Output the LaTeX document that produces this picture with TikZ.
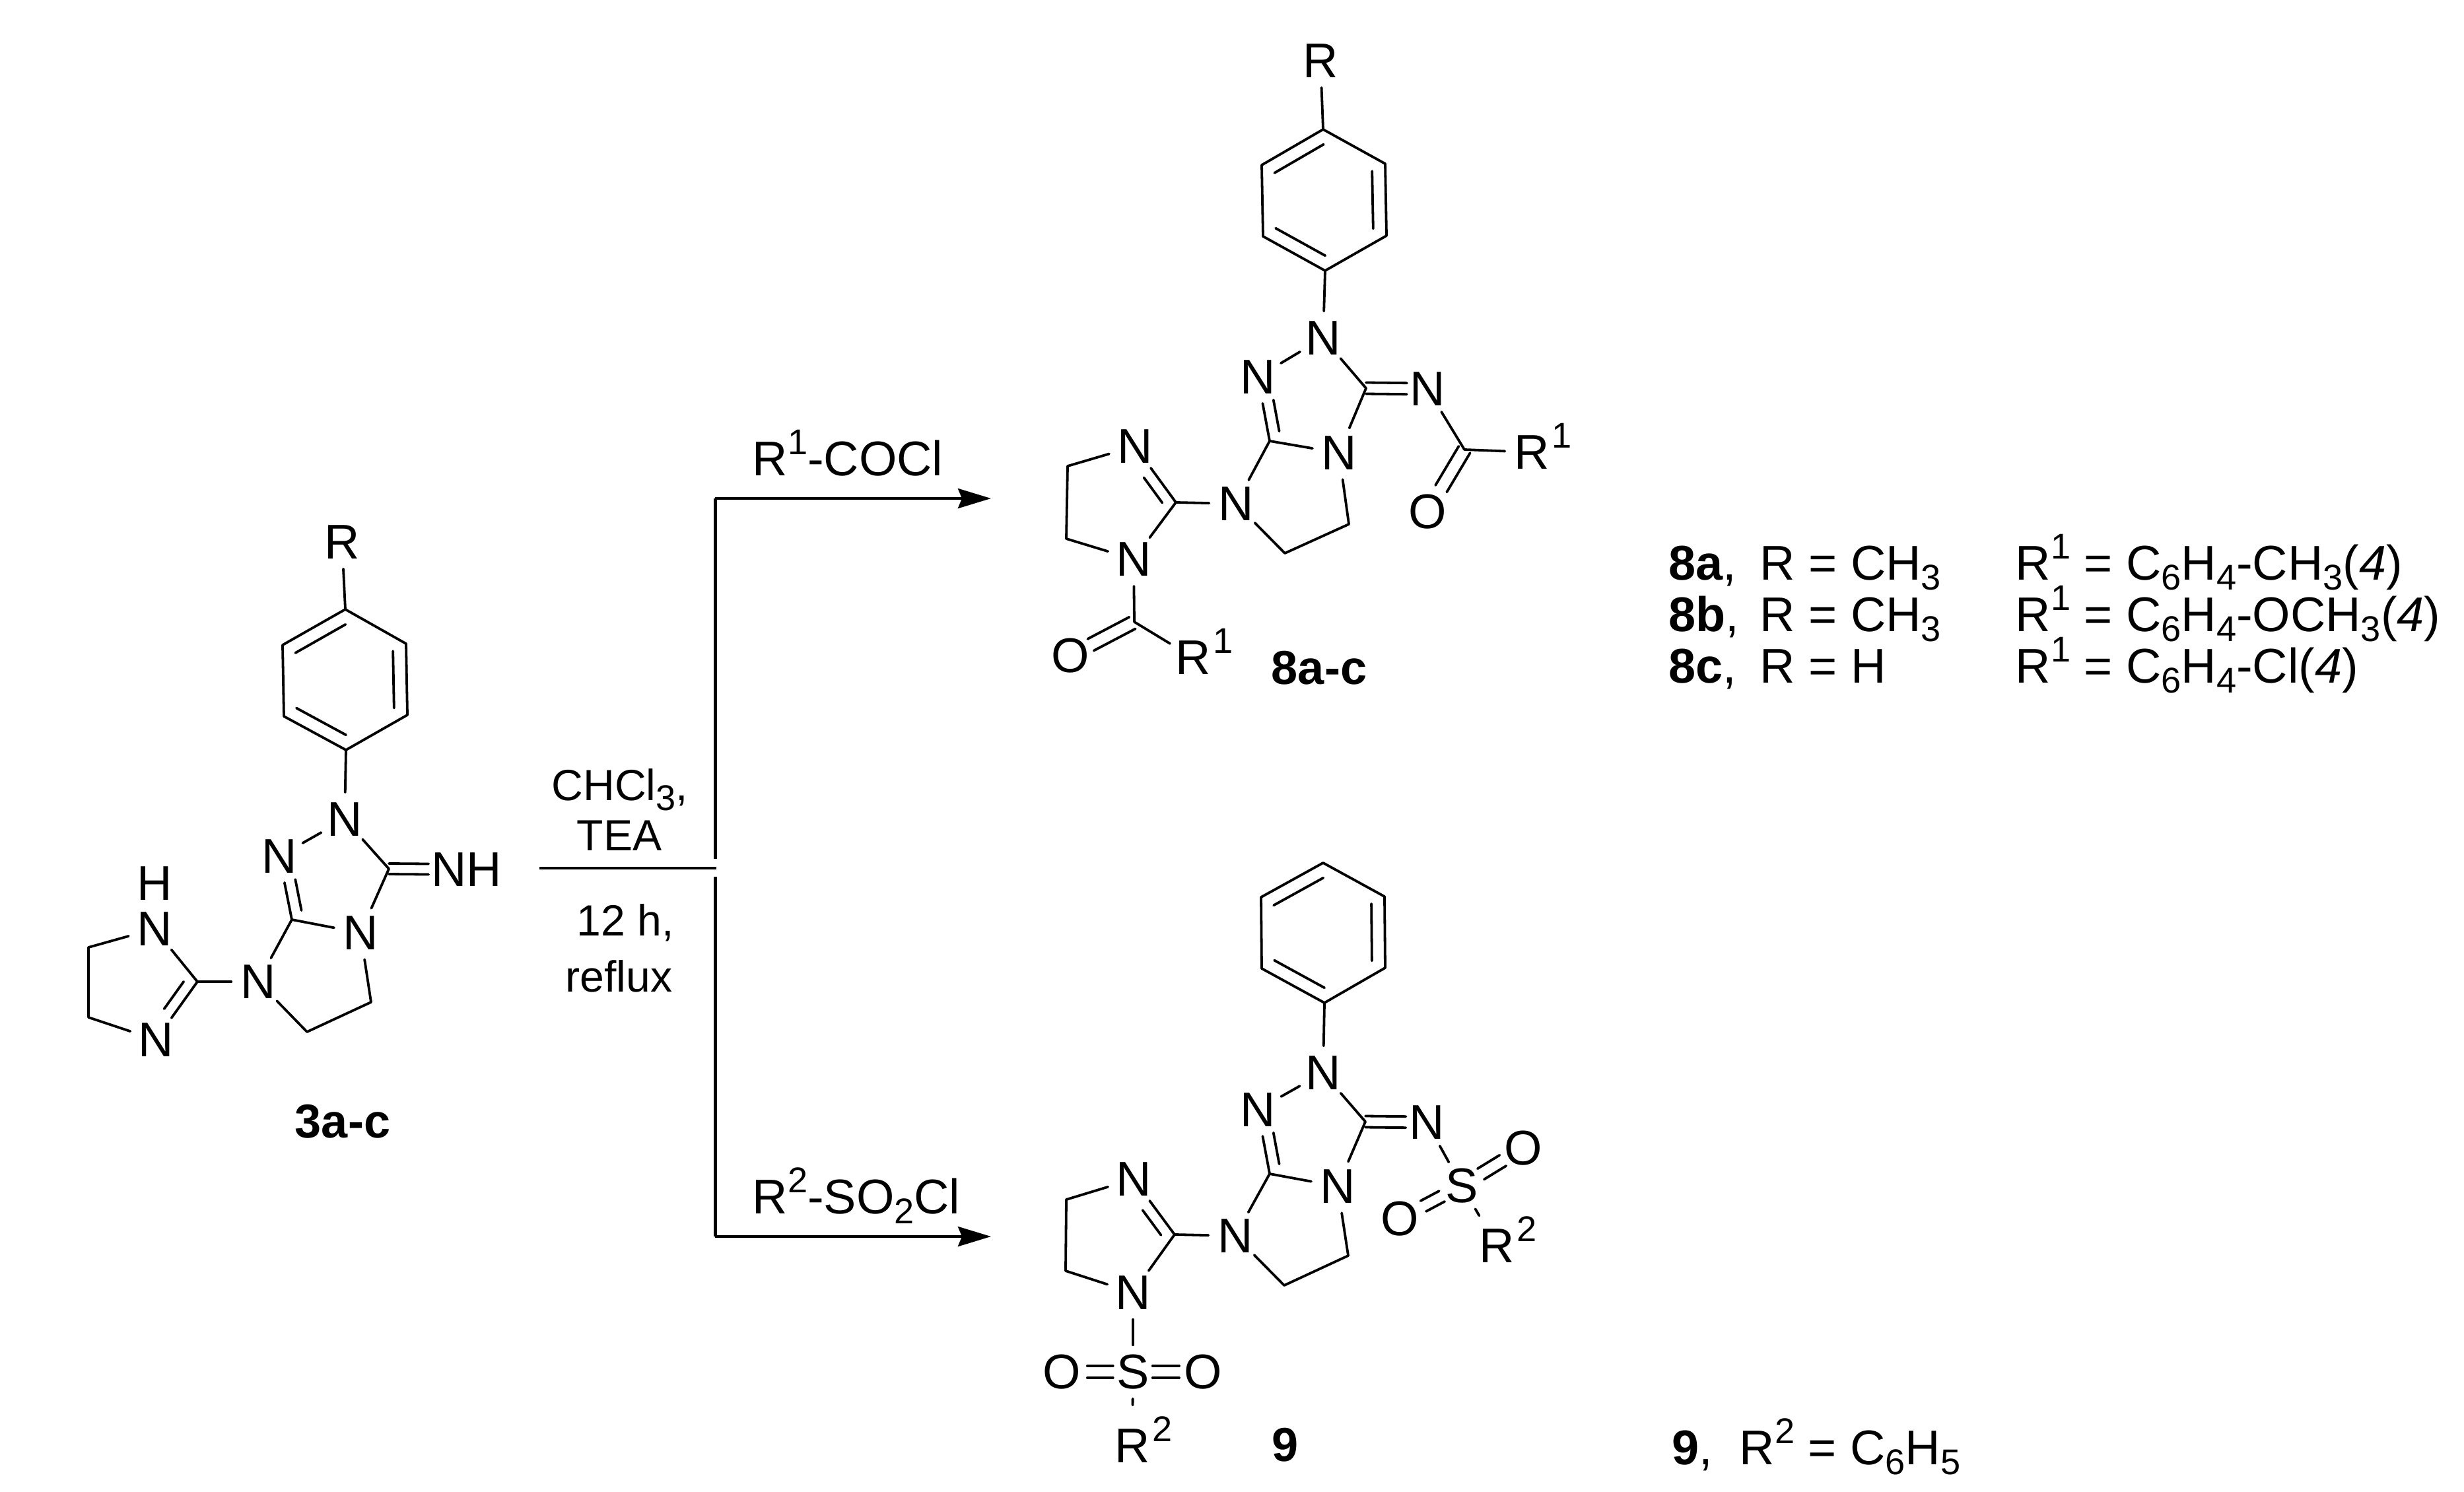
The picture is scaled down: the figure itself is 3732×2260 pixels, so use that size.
\documentclass[tikz,border=0pt]{standalone}
\usepackage{fontspec}
\setmainfont{Liberation Sans}
\usetikzlibrary{calc,arrows.meta}
\newcommand\fnA{\fontsize{21}{24}\selectfont}
\newcommand\fnB{\fontsize{20.5}{24}\selectfont}
\newcommand\fnC{\fontsize{18.8}{22}\selectfont}
\newcommand\fnS{\fontsize{15.4}{16}\selectfont}
\newcommand\subT[1]{\raisebox{-4.3pt}{\fnS #1}}
\newcommand\supT[1]{\raisebox{9pt}{\fnS #1}}
\newcommand\Rup[1]{R\smash{\rlap{\hspace{1pt}\supT{#1}}}}
\newcommand\dbl[5]{%
  \coordinate (tmpa) at ($(#1)!#5!90:(#2)$);
  \coordinate (tmpb) at ($(#2)!#5!-90:(#1)$);
  \draw[bond] ($(tmpa)!#3!(tmpb)$) -- ($(tmpa)!#4!(tmpb)$);}
\tikzset{
  bond/.style={line width=0.038cm,line cap=round,line join=round},
  atom/.style={circle,inner sep=0pt,minimum size=0.8cm,font=\fnA},
  lab/.style={inner sep=0pt,anchor=base west,font=\fnA},
  cond/.style={inner sep=0pt,anchor=base west,font=\fnC},
  cmpd/.style={inner sep=0pt,font=\fnB\bfseries},
  trunk/.style={line width=0.05cm},
  branch/.style={line width=0.04cm},
  rarrow/.style={line width=0.04cm,-{Stealth[length=0.5cm,width=0.3cm,inset=0.06cm]}}
}
\begin{document}
\begin{tikzpicture}[x=0.01cm,y=-0.01cm]
\useasboundingbox (0,0) rectangle (3732,2260);
% ---------- 3a-c
\node[atom] (aR) at (518,821) {R};
\coordinate (a1) at (523,923);
\coordinate (a2) at (615,975);
\coordinate (a3) at (617,1083);
\coordinate (a4) at (524,1136);
\coordinate (a5) at (430,1085);
\coordinate (a6) at (428,977);
\node[atom] (aN1) at (522,1241) {N};
\node[atom] (aN2) at (423,1297) {N};
\coordinate (aC1) at (589,1316);
\node[inner sep=0pt,font=\fnA] (aNH) at (707,1317) {NH};
\node[atom] (aN3) at (546,1413) {N};
\coordinate (aC2) at (442,1393);
\node[atom] (aN4) at (391,1487) {N};
\coordinate (aC3) at (562,1518);
\coordinate (aC4) at (465,1563);
\coordinate (aC5) at (299,1487);
\node[atom] (aNi1) at (234,1407) {N};
\node[inner sep=0pt,font=\fnA] (aH) at (234,1338) {H};
\node[atom] (aNi2) at (236,1575) {N};
\coordinate (aC6) at (134,1435);
\coordinate (aC7) at (134,1541);
\draw[bond] (aR) -- (a1) -- (a2) -- (a3) -- (a4) -- (a5) -- (a6) -- (a1);
\dbl{a6}{a1}{.1}{.9}{-0.2cm}
\dbl{a2}{a3}{.1}{.9}{-0.2cm}
\dbl{a4}{a5}{.1}{.9}{-0.2cm}
\draw[bond] (a4) -- (aN1);
\draw[bond] (aN1) -- (aN2);
\draw[bond] (aN1) -- (aC1);
\dbl{aC1}{aNH}{0}{.51}{0.08cm}
\dbl{aC1}{aNH}{0}{.51}{-0.08cm}
\draw[bond] (aC1) -- (aN3);
\draw[bond] (aN3) -- (aC2);
\draw[bond] (aC2) -- (aN2);
\dbl{aC2}{aN2}{.11}{.6}{-0.17cm}
\draw[bond] (aC2) -- (aN4);
\draw[bond] (aN3) -- (aC3) -- (aC4) -- (aN4);
\draw[bond] (aN4) -- (aC5);
\draw[bond] (aC5) -- (aNi1);
\draw[bond] (aC5) -- (aNi2);
\dbl{aC5}{aNi2}{.11}{.58}{-0.17cm}
\draw[bond] (aNi1) -- (aC6) -- (aC7) -- (aNi2);
\node[cmpd] (aL) at (519,1699) {3a-c};
% ---------- reaction lines
\coordinate (st) at (817,1315);
\coordinate (jn) at (1085,1315);
\coordinate (vt) at (1083,1301);
\coordinate (vb) at (1083,1328);
\coordinate (ct) at (1083,755);
\coordinate (cb) at (1083,1873);
\coordinate (tt) at (1501,755);
\coordinate (tb) at (1501,1873);
\draw[branch] (st) -- (jn);
\draw[trunk] (vt) -- (ct);
\draw[trunk] (vb) -- (cb);
\draw[rarrow] (ct) -- (tt);
\draw[rarrow] (cb) -- (tb);
\node[lab] (rt1) at (1139,720) {R\supT{1}-COCl};
\node[lab] (rt2) at (1139,1838) {R\supT{2}-SO\subT{2}Cl};
\node[cond] (c1) at (835,1212) {CHCl\subT{3},};
\node[cond] (c2) at (873,1288) {TEA};
\node[cond] (c3) at (873,1417) {12 h,};
\node[cond] (c4) at (856,1502) {reflux};
% ---------- 8a-c
\node[atom] (bR) at (2000,92) {R};
\coordinate (b1) at (2004,196);
\coordinate (b2) at (2098,248);
\coordinate (b3) at (2100,357);
\coordinate (b4) at (2007,410);
\coordinate (b5) at (1913,358);
\coordinate (b6) at (1911,250);
\node[atom] (bN1) at (2004,512) {N};
\node[atom] (bN2) at (1905,571) {N};
\coordinate (bC1) at (2069,588);
\node[atom] (bN5) at (2162,589) {N};
\node[atom] (bN3) at (2028,686) {N};
\coordinate (bC2) at (1923,668);
\node[atom] (bN4) at (1872,763) {N};
\coordinate (bC3) at (2043,794);
\coordinate (bC4) at (1946,838);
\coordinate (bC5) at (1781,761);
\node[atom] (bNi1) at (1719,676) {N};
\node[atom] (bNi2) at (1717,847) {N};
\coordinate (bC6) at (1617,706);
\coordinate (bC7) at (1615,816);
\coordinate (bC8) at (1718,942);
\node[atom] (bO1) at (1621,993) {O};
\node[atom] (bR1) at (1807,996) {\Rup{1}};
\coordinate (bC9) at (2218,681);
\node[atom] (bO2) at (2162,775) {O};
\node[atom] (bR2) at (2320,685) {\Rup{1}};
\draw[bond] (bR) -- (b1) -- (b2) -- (b3) -- (b4) -- (b5) -- (b6) -- (b1);
\dbl{b6}{b1}{.1}{.9}{-0.2cm}
\dbl{b2}{b3}{.1}{.9}{-0.2cm}
\dbl{b4}{b5}{.1}{.9}{-0.2cm}
\draw[bond] (b4) -- (bN1);
\draw[bond] (bN1) -- (bN2);
\draw[bond] (bN1) -- (bC1);
\dbl{bC1}{bN5}{0}{.665}{0.085cm}
\dbl{bC1}{bN5}{0}{.665}{-0.085cm}
\draw[bond] (bC1) -- (bN3);
\draw[bond] (bN3) -- (bC2);
\draw[bond] (bC2) -- (bN2);
\dbl{bC2}{bN2}{.12}{.61}{-0.17cm}
\draw[bond] (bC2) -- (bN4);
\draw[bond] (bN3) -- (bC3) -- (bC4) -- (bN4);
\draw[bond] (bN4) -- (bC5);
\draw[bond] (bC5) -- (bNi1);
\dbl{bC5}{bNi1}{.11}{.56}{0.17cm}
\draw[bond] (bC5) -- (bNi2);
\draw[bond] (bNi1) -- (bC6) -- (bC7) -- (bNi2);
\draw[bond] (bNi2) -- (bC8);
\draw[bond] (bC8) -- (bR1);
\dbl{bC8}{bO1}{.03}{.68}{0.1cm}
\dbl{bC8}{bO1}{.03}{.68}{-0.1cm}
\draw[bond] (bN5) -- (bC9);
\draw[bond] (bC9) -- (bR2);
\dbl{bC9}{bO2}{0}{.63}{0.1cm}
\dbl{bC9}{bO2}{0}{.63}{-0.1cm}
\node[cmpd] (bL) at (1998,1012) {8a-c};
% ---------- 9
\coordinate (c1) at (2004,1307);
\coordinate (c2) at (2097,1358);
\coordinate (c3) at (2098,1466);
\coordinate (c4) at (2006,1519);
\coordinate (c5) at (1911,1467);
\coordinate (c6) at (1910,1359);
\node[atom] (cN1) at (2004,1625) {N};
\node[atom] (cN2) at (1905,1681) {N};
\coordinate (cC1) at (2068,1699);
\node[atom] (cN5) at (2161,1700) {N};
\node[atom] (cN3) at (2026,1797) {N};
\coordinate (cC2) at (1923,1778);
\node[atom] (cN4) at (1871,1872) {N};
\coordinate (cC3) at (2042,1902);
\coordinate (cC4) at (1945,1947);
\coordinate (cC5) at (1779,1870);
\node[atom] (cNi1) at (1717,1786) {N};
\node[atom] (cNi2) at (1716,1958) {N};
\coordinate (cC6) at (1615,1817);
\coordinate (cC7) at (1614,1925);
\node[atom] (cS1) at (1716,2078) {S};
\node[atom] (cO1) at (1608,2078) {O};
\node[atom] (cO2) at (1822,2078) {O};
\node[atom] (cR1) at (1715,2190) {\Rup{2}};
\node[atom] (cS2) at (2214,1796) {S};
\node[atom] (cO3) at (2307,1739) {O};
\node[atom] (cO4) at (2120,1846) {O};
\node[atom] (cR2) at (2267,1887) {\Rup{2}};
\draw[bond] (c1) -- (c2) -- (c3) -- (c4) -- (c5) -- (c6) -- (c1);
\dbl{c6}{c1}{.1}{.9}{-0.2cm}
\dbl{c2}{c3}{.1}{.9}{-0.2cm}
\dbl{c4}{c5}{.1}{.9}{-0.2cm}
\draw[bond] (c4) -- (cN1);
\draw[bond] (cN1) -- (cN2);
\draw[bond] (cN1) -- (cC1);
\dbl{cC1}{cN5}{0}{.66}{0.085cm}
\dbl{cC1}{cN5}{0}{.66}{-0.085cm}
\draw[bond] (cC1) -- (cN3);
\draw[bond] (cN3) -- (cC2);
\draw[bond] (cC2) -- (cN2);
\dbl{cC2}{cN2}{.12}{.61}{-0.17cm}
\draw[bond] (cC2) -- (cN4);
\draw[bond] (cN3) -- (cC3) -- (cC4) -- (cN4);
\draw[bond] (cN4) -- (cC5);
\draw[bond] (cC5) -- (cNi1);
\dbl{cC5}{cNi1}{.11}{.56}{0.17cm}
\draw[bond] (cC5) -- (cNi2);
\draw[bond] (cNi1) -- (cC6) -- (cC7) -- (cNi2);
\draw[bond] (cNi2) -- (cS1);
\draw[bond,shorten >=0.21cm] (cS1) -- (cR1);
\dbl{cS1}{cO1}{.28}{.64}{0.09cm}
\dbl{cS1}{cO1}{.28}{.64}{-0.09cm}
\dbl{cS1}{cO2}{.28}{.66}{0.09cm}
\dbl{cS1}{cO2}{.28}{.66}{-0.09cm}
\draw[bond] (cN5) -- (cS2);
\draw[bond,shorten >=0.12cm] (cS2) -- (cR2);
\dbl{cS2}{cO3}{.31}{.67}{0.095cm}
\dbl{cS2}{cO3}{.31}{.67}{-0.095cm}
\dbl{cS2}{cO4}{.32}{.62}{0.09cm}
\dbl{cS2}{cO4}{.32}{.62}{-0.09cm}
\node[cmpd] (cL) at (1947,2189) {9};
% ---------- substituent list
\node[lab] (l1a) at (2527,878) {\textbf{8a},};
\node[lab] (l1b) at (2665,878) {R = CH\subT{3}};
\node[lab] (l1c) at (3052,878) {R\supT{1} = C\subT{6}H\subT{4}-CH\subT{3}(\textit{4})};
\node[lab] (l2a) at (2527,956) {\textbf{8b},};
\node[lab] (l2b) at (2665,956) {R = CH\subT{3}};
\node[lab] (l2c) at (3052,956) {R\supT{1} = C\subT{6}H\subT{4}-OCH\subT{3}(\textit{4})};
\node[lab] (l3a) at (2527,1034) {\textbf{8c},};
\node[lab] (l3b) at (2665,1034) {R = H};
\node[lab] (l3c) at (3052,1034) {R\supT{1} = C\subT{6}H\subT{4}-Cl(\textit{4})};
\node[lab] (l4a) at (2532,2218) {\textbf{9},};
\node[lab] (l4b) at (2634,2218) {R\supT{2} = C\subT{6}H\subT{5}};
\end{tikzpicture}
\end{document}
